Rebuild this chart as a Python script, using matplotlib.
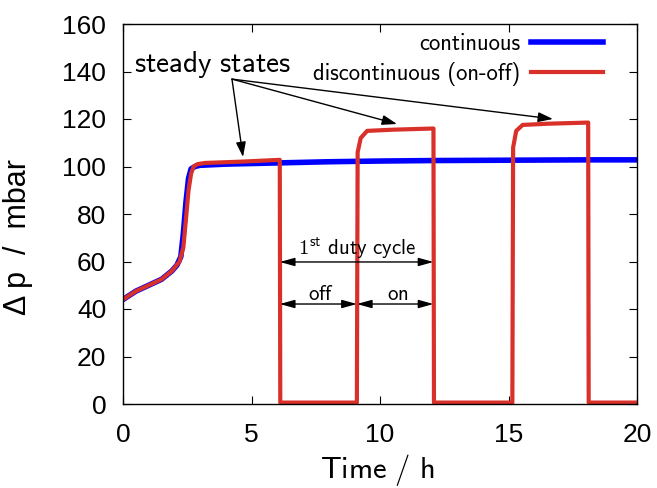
import matplotlib
matplotlib.use("Agg")
import matplotlib.pyplot as plt

plt.rcParams['mathtext.fontset'] = 'cm'

# continuous operation (blue)
t_cont = [0, 0.5, 1.0, 1.5, 1.9, 2.1, 2.25, 2.35, 2.45, 2.55, 2.65, 2.8, 3.0,
          4, 6, 8, 10, 12, 14, 16, 18, 20]
p_cont = [44, 47.5, 50, 52.5, 56, 58.5, 62, 72, 85, 95, 99, 100, 100.5,
          101, 101.5, 102, 102.3, 102.5, 102.6, 102.7, 102.8, 102.8]

# discontinuous operation, on-off (red)
t_disc = [0, 0.5, 1.0, 1.5, 1.9, 2.2, 2.35, 2.45, 2.55, 2.65, 2.75, 2.9, 3.2,
          4.5, 6.1, 6.12, 9.1, 9.13, 9.25, 9.5, 10.5, 12.08, 12.1,
          15.15, 15.18, 15.3, 15.55, 16.5, 18.1, 18.12, 20]
p_disc = [44, 47.5, 50, 52.5, 56, 60, 66, 78, 90, 97, 100, 101, 101.5,
          102, 102.8, 0.6, 0.6, 106, 112, 115, 115.5, 116, 0.6,
          0.6, 108, 115, 117.5, 118, 118.5, 0.6, 0.6]

x_ticks = [0, 5, 10, 15, 20]
y_ticks = [0, 20, 40, 60, 80, 100, 120, 140, 160]

fig = plt.figure(figsize=(6.57, 4.88), dpi=100)
ax = fig.add_axes([123/657, 1-404/488, 514/657, 380/488])

ax.plot(t_cont, p_cont, color='#0000ff', lw=4.0, label='continuous',
        solid_joinstyle='round')
ax.plot(t_disc, p_disc, color='#d9302a', lw=3.0,
        label='discontinuous (on-off)', solid_joinstyle='round')

ax.set_xlim(0, 20)
ax.set_ylim(0, 160)
ax.set_xticks(x_ticks)
ax.set_yticks(y_ticks)
ax.tick_params(direction='in', top=True, right=True, length=6, width=0.8,
               labelsize=19)
ax.tick_params(axis='x', pad=14)
ax.tick_params(axis='y', pad=12)
for lab in ax.get_xticklabels() + ax.get_yticklabels():
    lab.set_family('Liberation Sans')
for s in ax.spines.values():
    s.set_linewidth(1.0)

ax.set_xlabel(r'$\mathsf{Time\ /\ h}$', fontsize=22)
ax.xaxis.set_label_coords(0.494, -0.125)
ax.set_ylabel('\u0394 p  /  mbar', family='Liberation Sans', fontsize=22)
ax.yaxis.set_label_coords(-0.175, 0.44)

leg = ax.legend(loc='upper right', bbox_to_anchor=(0.934, 0.977), frameon=False,
                markerfirst=False, handlelength=3.2,
                handletextpad=0.45, labelspacing=0.3, borderpad=0,
                borderaxespad=0, prop={'family': 'cmss10', 'size': 16.3})

# steady states arrows
src = (4.24, 136.8)
ax.text(3.5, 139.8, r'$\mathsf{steady\ states}$', fontsize=21, ha='center', va='baseline')
for tip in [(4.67, 104), (10.66, 117.9), (16.73, 120)]:
    ax.annotate('', xy=tip, xytext=src,
                arrowprops=dict(arrowstyle='-|>,head_length=0.9,head_width=0.3',
                                color='black', lw=1.0, shrinkA=0, shrinkB=0))

# duty cycle arrows
def dbl(x0, x1, y):
    ax.annotate('', xy=(x1, y), xytext=(x0, y),
                arrowprops=dict(arrowstyle='<|-|>,head_length=0.9,head_width=0.25',
                                color='black', lw=1.0, shrinkA=0, shrinkB=0))

dbl(6.1, 12.08, 59.8)
dbl(6.1, 9.1, 42.1)
dbl(9.1, 12.08, 42.1)
ax.text(9.1, 62.7, r'$\mathsf{1^{st}\ duty\ cycle}$', fontsize=15, ha='center', va='baseline')
ax.text(7.7, 43.8, r'$\mathsf{off}$', fontsize=15, ha='center', va='baseline')
ax.text(10.7, 43.8, r'$\mathsf{on}$', fontsize=15, ha='center', va='baseline')

fig.savefig('out.png', dpi=100)
